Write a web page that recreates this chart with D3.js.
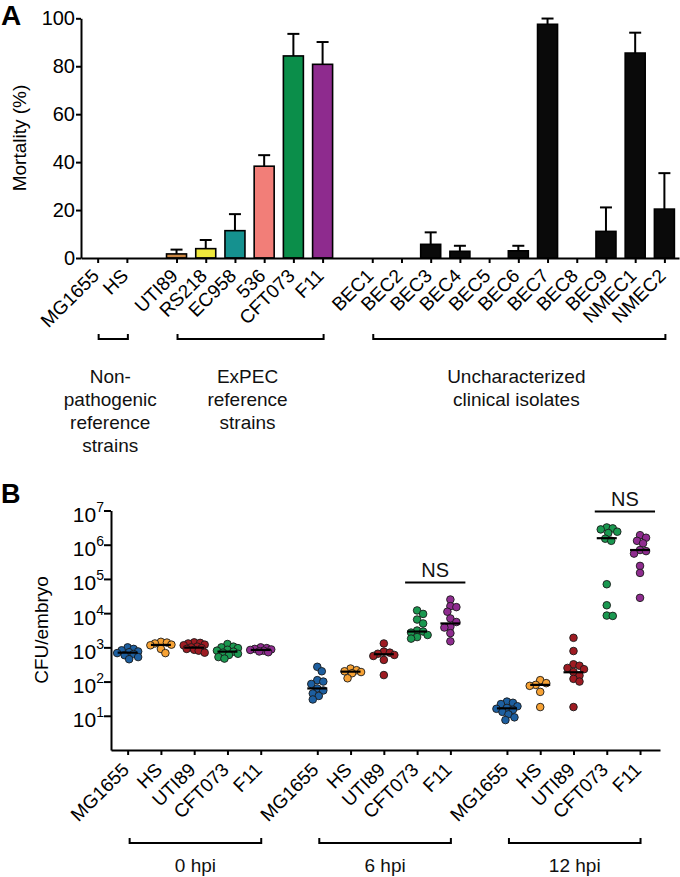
<!DOCTYPE html>
<html>
<head>
<meta charset="utf-8">
<script src="https://cdn.jsdelivr.net/npm/d3@7"></script>
<style>
  body { margin: 0; background: #fff; }
  svg { font-family: 'Liberation Sans', Arial, sans-serif; }
</style>
</head>
<body>
<svg id="chart" width="680" height="877"></svg>
<script>
// ---- panel A data ----
let nonPathStrains = ['MG1655', 'HS']
let expecStrains = ['UTI89', 'RS218', 'EC958', '536', 'CFT073', 'F11']
let clinicalStrains = ['BEC1', 'BEC2', 'BEC3', 'BEC4', 'BEC5', 'BEC6', 'BEC7', 'BEC8', 'BEC9', 'NMEC1', 'NMEC2']
let groupLabelsA = [
  ['Non-', 'pathogenic', 'reference', 'strains'],
  ['ExPEC', 'reference', 'strains'],
  ['Uncharacterized', 'clinical isolates']
]
let mortality = [0, 0, 1.7, 3.9, 11.4, 38.3, 84.3, 80.8, 0, 0, 5.7, 2.8, 0, 3.0, 97.5, 0, 11.1, 85.5, 20.4]
let mortalityErr = [0, 0, 1.8, 3.6, 6.9, 4.6, 9.2, 9.3, 0, 0, 5.0, 2.3, 0, 2.1, 2.4, 0, 10, 8.5, 15]
let barColors = ['#000', '#000', '#cc8844', '#efe83c', '#15918f', '#f27e78', '#0b8e4a', '#8e2b8e',
  '#0a0a0a', '#0a0a0a', '#0a0a0a', '#0a0a0a', '#0a0a0a', '#0a0a0a', '#0a0a0a', '#0a0a0a', '#0a0a0a', '#0a0a0a', '#0a0a0a']
let mortalityTicks = [0, 20, 40, 60, 80, 100]

// ---- panel B data ----
let hpiLabels = ['0 hpi', '6 hpi', '12 hpi']
let strainsB = ['MG1655', 'HS', 'UTI89', 'CFT073', 'F11']
let colorsB = ['#1d5fa0', '#f7a234', '#9e1b22', '#1a9850', '#8f2c8f']
let cfuMG1655 = [
  [1000, 900, 820, 760, 720, 680, 640, 590, 520, 450],
  [270, 200, 110, 100, 85, 63, 55, 45, 38, 30],
  [26, 24, 22, 19, 17, 16, 15, 13, 11, 9, 7.5]
]
let cfuHS = [
  [1450, 1380, 1300, 1200, 1150, 900, 680],
  [240, 215, 200, 190, 175, 125],
  [110, 90, 80, 75, 50, 18]
]
let cfuUTI89 = [
  [1400, 1350, 1300, 1200, 1150, 1050, 1000, 950, 900, 850, 800, 700],
  [1300, 750, 700, 650, 600, 560, 430, 155],
  [1900, 780, 320, 290, 250, 230, 190, 150, 120, 100, 18]
]
let cfuCFT073 = [
  [1250, 1050, 1000, 950, 850, 800, 750, 700, 650, 600, 520, 470],
  [12000, 9500, 6500, 5000, 3100, 2900, 2700, 2300, 2000, 1800],
  [3200000, 3000000, 2800000, 2400000, 2200000, 1500000, 1300000, 70000, 17000, 8500, 8300]
]
let cfuF11 = [
  [1000, 950, 900, 870, 840, 800, 760, 720],
  [25000, 16000, 15000, 11000, 7000, 5500, 4000, 3800, 2600, 1500],
  [1900000, 1600000, 1300000, 1100000, 700000, 650000, 550000, 240000, 150000, 28000]
]
let mediansB = [
  [700, 63, 16.5],
  [1180, 195, 80],
  [980, 630, 187],
  [750, 2900, 1550000],
  [840, 5000, 700000]
]
let cfuTicks = [1e1, 1e2, 1e3, 1e4, 1e5, 1e6, 1e7]
let nsTimepoints = [1, 2]
let nsLevels = [78000, 9300000]

const svg = d3.select('#chart')
drawPanelA()
drawPanelB()

function styleAxis(g, size) {
  g.attr('font-family', null).attr('font-size', null)
  g.select('.domain').attr('stroke', '#000').attr('stroke-width', 2)
  g.selectAll('.tick line').attr('stroke', '#000').attr('stroke-width', 2)
  g.selectAll('.tick text').attr('fill', '#000').attr('font-size', size || '19px')
}

function bracket(g, x0, x1, y) {
  g.append('path')
    .attr('d', `M${x0},${y - 5}V${y}H${x1}V${y - 5}`)
    .attr('fill', 'none')
    .attr('stroke', '#000')
    .attr('stroke-width', 2)
}

function drawPanelA() {
  let groups = [nonPathStrains, expecStrains, clinicalStrains]
  let rows = []
  groups.forEach((list, gi) => {
    list.forEach(name => rows.push({ name: name, group: gi, pos: rows.length + 0.7 * gi }))
  })
  rows.forEach((r, i) => { r.value = mortality[i]; r.err = mortalityErr[i]; r.color = barColors[i] })

  let x = d3.scaleLinear().domain([-0.57, 19.9]).range([81, 679])
  let y = d3.scaleLinear().domain([0, 100]).range([258, 18.3])
  let barW = 20

  const g = svg.append('g')

  g.append('g')
    .selectAll('rect')
    .data(rows)
    .enter()
    .append('rect')
    .attr('x', d => x(d.pos) - barW / 2)
    .attr('y', d => y(d.value))
    .attr('width', barW)
    .attr('height', d => y(0) - y(d.value))
    .attr('fill', d => d.color)
    .attr('stroke', '#000')
    .attr('stroke-width', 1.6)

  // error bars (upper only)
  let errs = g.append('g').attr('stroke', '#000').attr('stroke-width', 2)
  rows.filter(d => d.err > 0).forEach(d => {
    errs.append('line')
      .attr('x1', x(d.pos)).attr('x2', x(d.pos))
      .attr('y1', y(d.value)).attr('y2', y(d.value + d.err))
    errs.append('line')
      .attr('x1', x(d.pos) - 6).attr('x2', x(d.pos) + 6)
      .attr('y1', y(d.value + d.err)).attr('y2', y(d.value + d.err))
  })

  let xAxis = g.append('g')
    .attr('transform', `translate(0,${y(0)})`)
    .call(d3.axisBottom(x)
      .tickValues(rows.map(d => d.pos))
      .tickFormat((v, i) => rows[i].name)
      .tickSize(5)
      .tickSizeOuter(0))
  styleAxis(xAxis)
  xAxis.selectAll('.tick text')
    .attr('y', 0).attr('dy', null)
    .style('text-anchor', 'end')
    .attr('transform', 'translate(2,19) rotate(-45)')

  let yAxis = g.append('g')
    .attr('transform', `translate(${x.range()[0]},0)`)
    .call(d3.axisLeft(y).tickValues(mortalityTicks).tickSize(5).tickPadding(1).tickSizeOuter(0))
  styleAxis(yAxis, '20px')

  g.append('text')
    .attr('transform', 'translate(26,138) rotate(-90)')
    .attr('text-anchor', 'middle')
    .attr('font-size', '19px')
    .text('Mortality (%)')

  g.append('text')
    .attr('x', 1).attr('y', 25)
    .attr('font-size', '28px').attr('font-weight', 'bold')
    .text('A')

  // group brackets and labels
  groups.forEach((list, gi) => {
    let members = rows.filter(d => d.group === gi)
    let x0 = x(members[0].pos) + 1
    let x1 = x(members[members.length - 1].pos) + 1
    bracket(g, x0, x1, 339)
    let t = g.append('text')
      .attr('text-anchor', 'middle')
      .attr('font-size', '19px')
      .attr('fill', '#111')
    groupLabelsA[gi].forEach((line, li) => {
      t.append('tspan')
        .attr('x', (x0 + x1) / 2 - 3)
        .attr('y', 383 + li * 23)
        .text(line)
    })
  })
}

function dodge(values, y, minDist) {
  let placed = []
  return values.map(v => {
    let cy = y(v)
    let best = 0
    let bestScore = -1
    for (let k = 0; k < 15; k++) {
      let dx = (k % 2 ? 1 : -1) * Math.ceil(k / 2) * 1.5
      let nearest = d3.min(placed, p => Math.hypot(p.dx - dx, p.cy - cy))
      if (nearest === undefined) nearest = Infinity
      if (nearest >= minDist) { best = dx; bestScore = nearest; break }
      if (nearest > bestScore) { bestScore = nearest; best = dx }
    }
    placed.push({ dx: best, cy: cy })
    return { v: v, dx: best, cy: cy }
  })
}

function drawPanelB() {
  let cfuByStrain = [cfuMG1655, cfuHS, cfuUTI89, cfuCFT073, cfuF11]
  let ticks = []
  hpiLabels.forEach((h, ti) => {
    strainsB.forEach((s, si) => ticks.push({ name: s, time: ti, strain: si, pos: si + 5.7 * ti }))
  })

  let x = d3.scaleLinear().domain([-0.5, 16.0]).range([111, 660])
  let y = d3.scaleLog().domain([1, 1e7]).range([750, 510.5])

  const g = svg.append('g')

  let xAxis = g.append('g')
    .attr('transform', `translate(0,${y(1)})`)
    .call(d3.axisBottom(x)
      .tickValues(ticks.map(d => d.pos))
      .tickFormat((v, i) => ticks[i].name)
      .tickSize(5)
      .tickSizeOuter(0))
  styleAxis(xAxis)
  xAxis.selectAll('.tick text')
    .attr('y', 0).attr('dy', null)
    .style('text-anchor', 'end')
    .attr('transform', 'translate(2,21) rotate(-45)')

  let yAxis = g.append('g')
    .attr('transform', `translate(${x.range()[0]},0)`)
    .call(d3.axisLeft(y).tickValues(cfuTicks).tickSize(7).tickPadding(0).tickSizeOuter(0))
  styleAxis(yAxis, '21px')
  yAxis.selectAll('.tick text').each(function(d) {
    let t = d3.select(this)
    t.text('').attr('dy', '11px')
    t.append('tspan').text('10')
    t.append('tspan').attr('dy', '-10px').attr('font-size', '14px').text(Math.round(Math.log10(d)))
  })

  // dots
  ticks.forEach(tk => {
    let vals = cfuByStrain[tk.strain][tk.time]
    let pts = dodge(vals, y, 6)
    g.append('g')
      .selectAll('circle')
      .data(pts)
      .enter()
      .append('circle')
      .attr('cx', d => x(tk.pos) + d.dx)
      .attr('cy', d => d.cy)
      .attr('r', 3.8)
      .attr('fill', colorsB[tk.strain])
      .attr('stroke', '#1a1a1a')
      .attr('stroke-width', 0.9)
    let m = mediansB[tk.strain][tk.time]
    g.append('line')
      .attr('x1', x(tk.pos) - 10).attr('x2', x(tk.pos) + 10)
      .attr('y1', y(m)).attr('y2', y(m))
      .attr('stroke', '#000').attr('stroke-width', 2.2)
  })

  // NS comparisons (CFT073 vs F11)
  nsTimepoints.forEach((ti, i) => {
    let a = x(3 + 5.7 * ti) - 12
    let b = x(4 + 5.7 * ti) + 15
    g.append('line')
      .attr('x1', a).attr('x2', b)
      .attr('y1', y(nsLevels[i])).attr('y2', y(nsLevels[i]))
      .attr('stroke', '#000').attr('stroke-width', 2)
    g.append('text')
      .attr('x', (a + b) / 2).attr('y', y(nsLevels[i]) - 6)
      .attr('text-anchor', 'middle')
      .attr('font-size', '20px')
      .attr('fill', '#111')
      .text('NS')
  })

  // time brackets
  hpiLabels.forEach((h, ti) => {
    let members = ticks.filter(d => d.time === ti)
    let x0 = x(members[0].pos) + 2
    let x1 = x(members[members.length - 1].pos) + 0.5
    bracket(g, x0, x1, 843)
    g.append('text')
      .attr('x', (x0 + x1) / 2).attr('y', 872)
      .attr('text-anchor', 'middle')
      .attr('font-size', '19px')
      .attr('fill', '#111')
      .text(h)
  })

  g.append('text')
    .attr('transform', 'translate(48,630) rotate(-90)')
    .attr('text-anchor', 'middle')
    .attr('font-size', '19px')
    .text('CFU/embryo')

  g.append('text')
    .attr('x', 1).attr('y', 503)
    .attr('font-size', '27px').attr('font-weight', 'bold')
    .text('B')
}
</script>
</body>
</html>
